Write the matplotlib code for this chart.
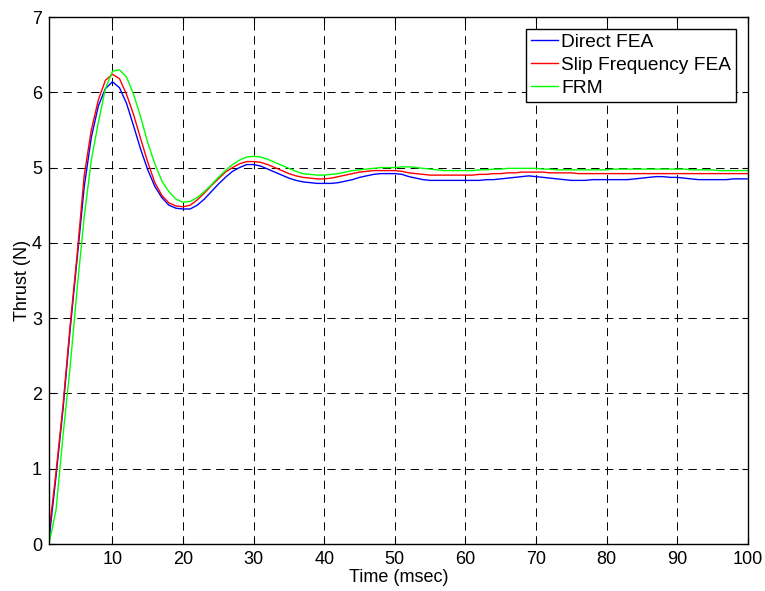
import matplotlib
matplotlib.use("Agg")
import matplotlib.pyplot as plt

plt.rcParams['font.family'] = ['Liberation Sans', 'DejaVu Sans']
plt.rcParams['lines.scale_dashes'] = False

time_ms = list(range(1, 101))

direct_fea = [
    0.05, 0.90, 1.80, 2.85, 3.80, 4.75, 5.40, 5.82, 6.05, 6.14,
    6.06, 5.85, 5.55, 5.24, 4.97, 4.75, 4.60, 4.50, 4.46, 4.45,
    4.45, 4.50, 4.58, 4.68, 4.78, 4.87, 4.95, 5.00, 5.04, 5.04,
    5.02, 4.98, 4.94, 4.90, 4.86, 4.83, 4.81, 4.80, 4.79, 4.79,
    4.79, 4.80, 4.82, 4.84, 4.87, 4.89, 4.91, 4.92, 4.92, 4.92,
    4.91, 4.88, 4.86, 4.84, 4.83, 4.83, 4.83, 4.83, 4.83, 4.83,
    4.83, 4.83, 4.84, 4.84, 4.85, 4.86, 4.87, 4.88, 4.89, 4.88,
    4.87, 4.86, 4.85, 4.84, 4.83, 4.83, 4.83, 4.84, 4.84, 4.84,
    4.84, 4.84, 4.84, 4.85, 4.86, 4.87, 4.88, 4.88, 4.87, 4.87,
    4.86, 4.85, 4.84, 4.84, 4.84, 4.84, 4.84, 4.85, 4.85, 4.85,
]

slip_freq_fea = [
    0.15, 0.95, 1.85, 2.90, 3.85, 4.90, 5.50, 5.90, 6.16, 6.24,
    6.18, 5.97, 5.70, 5.38, 5.07, 4.80, 4.63, 4.53, 4.49, 4.48,
    4.50, 4.57, 4.66, 4.76, 4.85, 4.94, 5.00, 5.05, 5.08, 5.08,
    5.07, 5.04, 5.00, 4.96, 4.92, 4.89, 4.87, 4.86, 4.85, 4.85,
    4.86, 4.88, 4.90, 4.92, 4.94, 4.95, 4.96, 4.96, 4.96, 4.96,
    4.95, 4.93, 4.92, 4.91, 4.90, 4.90, 4.90, 4.90, 4.90, 4.90,
    4.90, 4.91, 4.91, 4.92, 4.92, 4.93, 4.93, 4.94, 4.94, 4.94,
    4.94, 4.93, 4.93, 4.93, 4.93, 4.92, 4.92, 4.92, 4.92, 4.92,
    4.92, 4.92, 4.92, 4.92, 4.92, 4.92, 4.92, 4.92, 4.92, 4.92,
    4.92, 4.92, 4.92, 4.92, 4.92, 4.92, 4.92, 4.92, 4.92, 4.92,
]

frm = [
    0.00, 0.45, 1.45, 2.35, 3.40, 4.35, 5.10, 5.60, 6.05, 6.28,
    6.30, 6.20, 5.97, 5.67, 5.33, 5.05, 4.82, 4.68, 4.58, 4.54,
    4.55, 4.60, 4.68, 4.77, 4.87, 4.96, 5.04, 5.10, 5.14, 5.15,
    5.14, 5.11, 5.07, 5.03, 4.99, 4.95, 4.92, 4.91, 4.90, 4.90,
    4.91, 4.92, 4.94, 4.96, 4.97, 4.98, 4.99, 5.00, 5.00, 5.00,
    5.01, 5.01, 5.00, 4.99, 4.98, 4.97, 4.96, 4.96, 4.96, 4.96,
    4.96, 4.97, 4.97, 4.98, 4.98, 4.99, 4.99, 4.99, 4.99, 4.99,
    4.98, 4.98, 4.97, 4.97, 4.97, 4.97, 4.97, 4.97, 4.97, 4.97,
    4.98, 4.98, 4.98, 4.98, 4.98, 4.98, 4.98, 4.98, 4.98, 4.98,
    4.98, 4.97, 4.97, 4.97, 4.97, 4.96, 4.96, 4.96, 4.96, 4.96,
]

series = [
    ("Direct FEA", direct_fea, "#0000ff"),
    ("Slip Frequency FEA", slip_freq_fea, "#ff0000"),
    ("FRM", frm, "#00ff00"),
]

x_ticks = [10, 20, 30, 40, 50, 60, 70, 80, 90, 100]
y_ticks = [0, 1, 2, 3, 4, 5, 6, 7]

fig = plt.figure(figsize=(7.65, 5.91), dpi=100)
ax = fig.add_axes([0.064, 0.0795, 0.9134, 0.8917])

for label, values, color in series:
    ax.plot(time_ms, values, color=color, linewidth=1.0, label=label)

ax.set_xlim(1, 100)
ax.set_ylim(0, 7)
ax.set_xticks(x_ticks)
ax.set_yticks(y_ticks)
ax.tick_params(direction='in', length=4, width=0.8, top=True, right=True,
               labelsize=13, colors='black', pad=5)
ax.grid(True, color='black', linestyle=(0, (6, 4)), linewidth=0.7)
for spine in ax.spines.values():
    spine.set_linewidth(1.0)
    spine.set_color('black')

ax.set_xlabel("Time (msec)", fontsize=13, labelpad=1)
ax.set_ylabel("Thrust (N)", fontsize=13, labelpad=0.5)

leg = ax.legend(loc='upper right', fontsize=13.8, frameon=True, fancybox=False,
                framealpha=1, edgecolor='black', handlelength=1.4,
                handletextpad=0.2, borderpad=0.25, labelspacing=0.3,
                borderaxespad=0.6)
leg.get_frame().set_linewidth(1.0)

fig.savefig("out.png", dpi=100)
